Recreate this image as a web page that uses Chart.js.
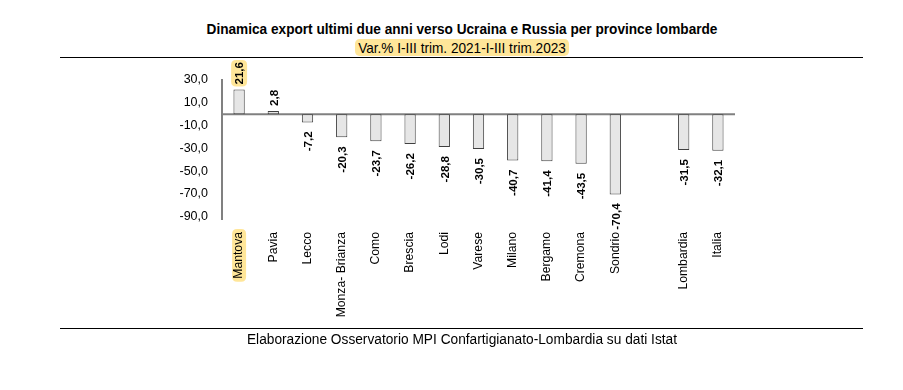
<!DOCTYPE html>
<html>
<head>
<meta charset="utf-8">
<script src="https://cdn.jsdelivr.net/npm/chart.js@4.4.1/dist/chart.umd.min.js"></script>
<style>
  html, body { margin: 0; padding: 0; background: #ffffff; }
  #wrap { position: relative; width: 903px; height: 390px; overflow: hidden; background: #fff; }
  #chartBox { position: absolute; left: 0; top: 0; width: 903px; height: 390px; }
  .txt { position: absolute; left: 0; width: 924px; text-align: center; white-space: nowrap; color: #000;
         line-height: 18px; font-family: "Liberation Sans", Arial, sans-serif; transform-origin: 462px 50%; }
  #title { top: 20px; font-weight: bold; font-size: 15.5px; transform: scaleX(0.88); }
  #subtitle { top: 39px; font-size: 15px; transform: scaleX(0.907); }
  #subtitle span { background: #ffe699; border-radius: 5px; padding: 0 4px; }
  #footer { top: 330px; font-size: 15.5px; transform: scaleX(0.885); }
  .rule { position: absolute; left: 60px; width: 803px; height: 1px; background: #000; }
</style>
</head>
<body>
<div id="wrap">
  <div id="title" class="txt">Dinamica export ultimi due anni verso Ucraina e Russia per province lombarde</div>
  <div id="subtitle" class="txt"><span>Var.% I-III trim. 2021-I-III trim.2023</span></div>
  <div class="rule" style="top:57px"></div>
  <div id="chartBox"><canvas id="c" width="903" height="390"></canvas></div>
  <div class="rule" style="top:328px"></div>
  <div id="footer" class="txt">Elaborazione Osservatorio MPI Confartigianato-Lombardia su dati Istat</div>
</div>
<script>
// ---- data ----
const categories = ["Mantova", "Pavia", "Lecco", "Monza- Brianza", "Como", "Brescia", "Lodi", "Varese",
                    "Milano", "Bergamo", "Cremona", "Sondrio", "", "Lombardia", "Italia"];
const values = [21.6, 2.8, -7.2, -20.3, -23.7, -26.2, -28.8, -30.5, -40.7, -41.4, -43.5, -70.4, null, -31.5, -32.1];
const yTicks = [30, 10, -10, -30, -50, -70, -90];
const highlightIndex = 0;

// ---- styling ----
const FAM = '"Liberation Sans", Arial, sans-serif';
const HL = '#ffe699';
const X_PAD = 13;
const X_FONT = 12.2;
const Y_FONT = 12.5;
const LBL_FONT = 11.6;

const fmt = v => v.toFixed(1).replace('.', ',');

function roundRect(ctx, x, y, w, h, r) {
  ctx.beginPath();
  ctx.moveTo(x + r, y);
  ctx.lineTo(x + w - r, y); ctx.quadraticCurveTo(x + w, y, x + w, y + r);
  ctx.lineTo(x + w, y + h - r); ctx.quadraticCurveTo(x + w, y + h, x + w - r, y + h);
  ctx.lineTo(x + r, y + h); ctx.quadraticCurveTo(x, y + h, x, y + h - r);
  ctx.lineTo(x, y + r); ctx.quadraticCurveTo(x, y, x + r, y);
  ctx.closePath();
}

const decorPlugin = {
  id: 'decor',
  beforeDraw(chart) {
    const ctx = chart.ctx;
    const xs = chart.scales.x;
    const x = xs.getPixelForTick(highlightIndex);
    ctx.save();
    ctx.font = X_FONT + 'px ' + FAM;
    const w = ctx.measureText(categories[highlightIndex]).width;
    ctx.fillStyle = HL;
    roundRect(ctx, x - 7, xs.top + X_PAD - 3, 14, w + 6, 5);
    ctx.fill();
    ctx.restore();
  },
  beforeDatasetsDraw(chart) {
    const ctx = chart.ctx;
    const ys = chart.scales.y;
    const a = chart.chartArea;
    const y0 = ys.getPixelForValue(0);
    ctx.save();
    ctx.strokeStyle = '#808080';
    ctx.lineWidth = 2;
    ctx.beginPath();
    ctx.moveTo(a.left, y0);
    ctx.lineTo(a.right, y0);
    ctx.stroke();
    ctx.restore();
  },
  afterDatasetsDraw(chart) {
    const ctx = chart.ctx;
    const meta = chart.getDatasetMeta(0);
    ctx.save();
    ctx.font = 'bold ' + LBL_FONT + 'px ' + FAM;
    ctx.textBaseline = 'middle';
    meta.data.forEach((bar, i) => {
      const v = values[i];
      if (v === null || v === undefined) return;
      const t = fmt(v);
      const w = ctx.measureText(t).width;
      ctx.save();
      const ay = v >= 0 ? bar.y - 5 : bar.y + 9;
      ctx.translate(bar.x, ay);
      ctx.rotate(-Math.PI / 2);
      if (i === highlightIndex) {
        ctx.fillStyle = HL;
        if (v >= 0) roundRect(ctx, -2, -8, w + 4, 16, 5);
        else roundRect(ctx, -w - 2, -8, w + 4, 16, 5);
        ctx.fill();
      }
      ctx.fillStyle = '#000';
      ctx.textAlign = v >= 0 ? 'left' : 'right';
      ctx.fillText(t, 0, 1);
      ctx.restore();
    });
    ctx.restore();
  }
};

Chart.defaults.font.family = FAM;
Chart.defaults.color = '#000';

new Chart(document.getElementById('c'), {
  type: 'bar',
  data: {
    labels: categories,
    datasets: [{
      data: values,
      backgroundColor: '#e6e6e6',
      borderColor: '#404040',
      borderWidth: 1,
      borderSkipped: false,
      barPercentage: 0.33,
      categoryPercentage: 1.0
    }]
  },
  options: {
    responsive: false,
    animation: false,
    events: [],
    layout: { padding: { left: 150, right: 168, top: 80, bottom: 0 } },
    plugins: { legend: { display: false }, tooltip: { enabled: false }, title: { display: false } },
    scales: {
      x: {
        grid: { display: false, drawTicks: false },
        border: { display: false },
        ticks: {
          autoSkip: false, maxRotation: 90, minRotation: 90, padding: X_PAD,
          color: '#000', font: { size: X_FONT }
        },
        afterFit(scale) { scale.height = 171; }
      },
      y: {
        min: -92, max: 30,
        grid: { display: false, drawTicks: false },
        border: { display: true, color: '#808080', width: 2 },
        afterBuildTicks(scale) { scale.ticks = yTicks.map(v => ({ value: v })); },
        ticks: {
          padding: 14, color: '#000', font: { size: Y_FONT },
          callback: v => fmt(v)
        },
        afterFit(scale) { scale.width = 72; }
      }
    }
  },
  plugins: [decorPlugin]
});
</script>
</body>
</html>
